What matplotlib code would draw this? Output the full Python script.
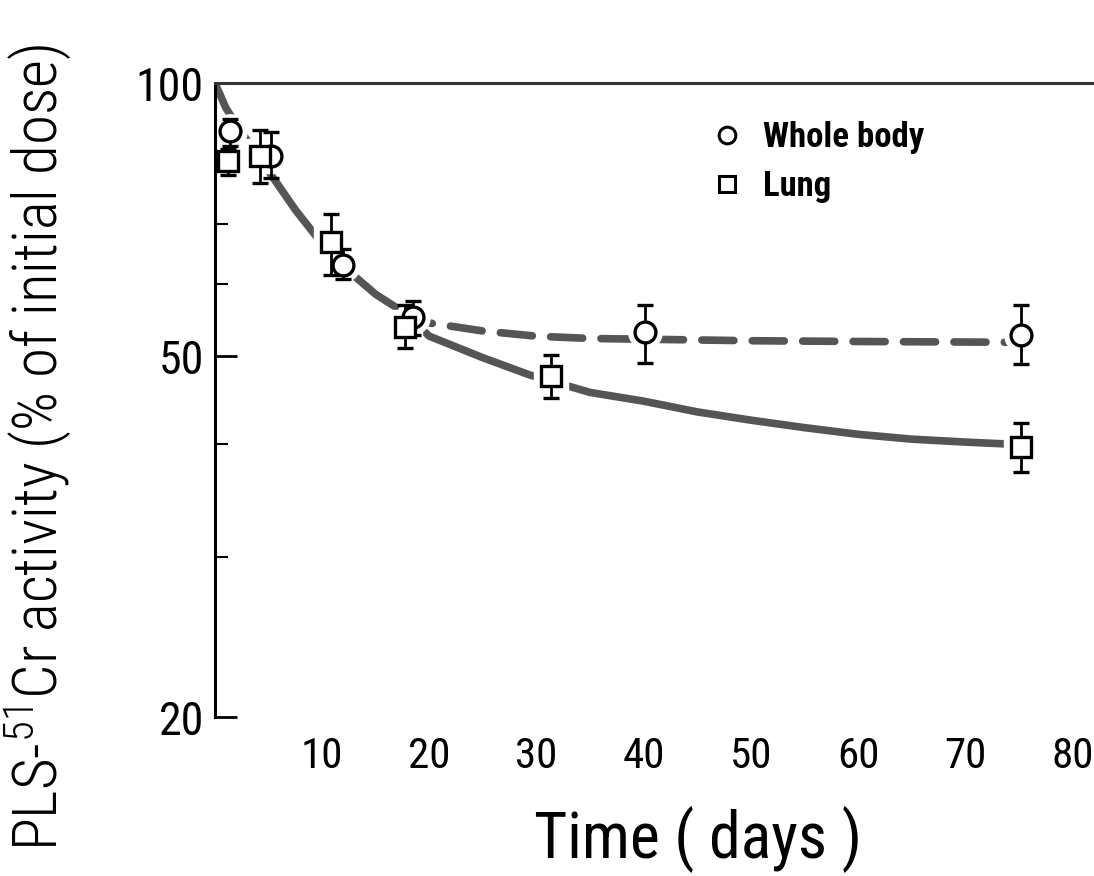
import matplotlib
matplotlib.use("Agg")
import matplotlib.pyplot as plt
from matplotlib import font_manager
from matplotlib.lines import Line2D

# pick the narrowest face that is installed
names = {f.name for f in font_manager.fontManager.ttflist}
face = "DejaVu Sans"
for cand in ["Roboto Condensed", "Liberation Sans Narrow", "Roboto", "Liberation Sans"]:
    if cand in names:
        face = cand
        break
plt.rcParams["font.family"] = [face, "DejaVu Sans"]
plt.rcParams["mathtext.fontset"] = "custom"
plt.rcParams["mathtext.rm"] = face + ":light"

# measured points (days, % of initial dose) with error limits
days_wb = [1.4, 5.2, 11.9, 18.5, 40.1, 75.2]
wb = [88.5, 83.1, 63.0, 55.3, 53.1, 52.8]
wb_lo = [85.2, 78.7, 60.8, 52.8, 49.2, 49.0]
wb_hi = [91.3, 88.3, 65.6, 57.5, 57.0, 57.0]

days_lung = [1.2, 4.2, 10.8, 17.7, 31.3, 75.2]
lung = [82.0, 83.1, 66.8, 53.8, 47.5, 39.7]
lung_lo = [79.3, 77.7, 61.4, 51.1, 45.0, 37.3]
lung_hi = [84.6, 88.7, 71.8, 57.0, 50.2, 42.2]

# fitted curves
fit_days_early = [0, 0.5, 1, 2, 3, 5, 7.5, 10, 12.5, 15, 17.5]
fit_early = [100, 97, 94, 90, 86.5, 80, 72.5, 66.5, 62, 58.5, 56.0]
fit_days_wb = [17.5, 20, 25, 30, 35, 40, 50, 60, 74]
fit_wb = [56.0, 54.4, 53.3, 52.6, 52.3, 52.2, 52.0, 51.9, 51.8]
fit_days_lung = [17.5, 20, 25, 29.3, 35, 40, 45, 50, 55, 60, 65, 70, 74]
fit_lung = [56.0, 52.6, 49.8, 47.7, 45.6, 44.6, 43.4, 42.5, 41.7, 41.0, 40.5, 40.2, 40.0]

fig = plt.figure(figsize=(10.94, 8.76), dpi=100)
ax = fig.add_axes([0.1965, 0.1815, 0.8035, 0.7235])

line_color = "#555555"
ax.plot(fit_days_early, fit_early, color=line_color, lw=5.5, solid_capstyle="round", zorder=1)
ax.plot(fit_days_lung, fit_lung, color=line_color, lw=5.5, solid_capstyle="round", zorder=1)
ax.plot(fit_days_wb, fit_wb, color=line_color, lw=5.5, ls=(0, (4.2, 2.4)),
        dash_capstyle="round", zorder=1)

# white halo under the markers breaks the curves like in the print
for d, v, m in [(days_wb, wb, "o"), (days_lung, lung, "s")]:
    ax.plot(d, v, ls="none", marker=m, ms=24, mfc="white", mec="white", zorder=2)

def draw_points(d, v, lo, hi, m):
    err = [[a - b for a, b in zip(v, lo)], [b - a for a, b in zip(v, hi)]]
    ax.errorbar(d, v, yerr=err, fmt=m, ms=15, mfc="white", mec="black", mew=2.4,
                ecolor="black", elinewidth=2, capsize=6, capthick=3, zorder=3)

draw_points(days_wb, wb, wb_lo, wb_hi, "o")
draw_points(days_lung, lung, lung_lo, lung_hi, "s")

ax.set_yscale("log")
ax.set_ylim(20, 100)
ax.set_xlim(0, 82)
ax.set_yticks([20, 50, 100])
ax.set_yticklabels(["20", "50", "100"])
ax.set_yticks([30, 40, 60, 70], minor=True)
ax.yaxis.set_minor_formatter(plt.NullFormatter())
ax.tick_params(axis="y", which="major", direction="in", length=16, width=2, labelsize=33, pad=8)
ax.tick_params(axis="y", which="minor", direction="in", length=9, width=1.5)
ax.set_xticks([10, 20, 30, 40, 50, 60, 70, 80])
ax.tick_params(axis="x", length=0, labelsize=31, pad=14)

ax.spines["right"].set_visible(False)
ax.spines["bottom"].set_visible(False)
ax.spines["left"].set_linewidth(2.2)
ax.spines["top"].set_linewidth(2.2)
ax.spines["top"].set_color("#333333")

ax.set_xlabel("Time ( days )", fontsize=46)
ax.xaxis.set_label_coords(0.55, -0.14)
ax.set_ylabel(r"PLS-$^{51}$Cr activity (% of initial dose)", fontsize=44, fontweight="light")
ax.yaxis.set_label_coords(-0.16, 0.425)

handles = [
    Line2D([], [], ls="none", marker="o", ms=12, mfc="white", mec="black", mew=2.2),
    Line2D([], [], ls="none", marker="s", ms=12, mfc="white", mec="black", mew=2.2),
]
ax.legend(handles, ["Whole body", "Lung"], loc="upper left", bbox_to_anchor=(0.543, 0.962),
          frameon=False, prop={"weight": "bold", "size": 25}, handletextpad=0.45,
          labelspacing=0.45, borderaxespad=0, handlelength=1.2)

fig.savefig("out.png", dpi=100)
